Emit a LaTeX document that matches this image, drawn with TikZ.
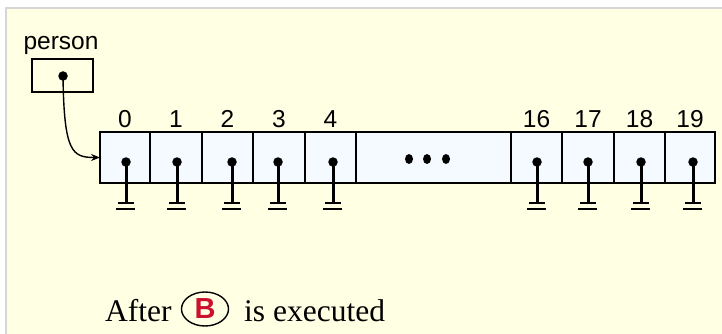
\documentclass[tikz,border=0pt]{standalone}
\usepackage{fontspec}
\setmainfont{Liberation Serif}
\newfontfamily\sansf{Liberation Sans}
\usetikzlibrary{arrows.meta,shapes.geometric}
\definecolor{bgyellow}{RGB}{255,255,227}
\definecolor{cellblue}{RGB}{244,250,255}
\definecolor{framegray}{RGB}{214,214,214}
\definecolor{bred}{RGB}{204,16,46}
\tikzset{
  cellbox/.style={draw=black, fill=cellblue, line width=1.6pt, minimum height=51pt, inner sep=0pt, outer sep=0pt},
  idx/.style={font=\sansf\fontsize{24.5}{28}\selectfont, anchor=base, inner sep=0pt},
  ptrdot/.style={circle, fill=black, inner sep=0pt, minimum size=9.5pt},
  stem/.style={line width=3pt},
  gbar/.style={line width=2.4pt},
  gline/.style={line width=1.4pt},
  serifbig/.style={font=\fontsize{31.5}{36}\selectfont, anchor=base west, inner sep=0pt},
}
\begin{document}
\begin{tikzpicture}[x=1pt,y=-1pt]
\useasboundingbox (0,0) rectangle (722,334);
\fill[white] (0,0) rectangle (722,334);
\fill[bgyellow] (6,8) rectangle (722,334);
\draw[framegray, line width=2pt] (6,334) -- (6,8) -- (722,8);

% cells
\foreach \n/\l/\r/\px in {0/100/150/126, 1/150/202/177, 2/202/253/232, 3/253/305/278, 4/305/356/333, 16/511/562/537, 17/562/614/588, 18/614/665/641, 19/665/715/693} {
  \node[cellbox, minimum width={\r-\l}] (c\n) at ({(\l+\r)/2},157.5) {};
  \node[idx] (lab\n) at ({(\l+\r)/2},128) {\n};
  \coordinate (g\n) at (\px,203);
  \draw[stem] (\px,162) -- (g\n);
  \node[ptrdot] (d\n) at (\px,162) {};
  \draw[gbar] ([xshift=-8pt]g\n) -- ([xshift=8pt]g\n);
  \draw[gline] ([xshift=-10pt,yshift=-6pt]g\n) -- ([xshift=9pt,yshift=-6pt]g\n);
}
\node[cellbox, minimum width=155pt] (cdots) at (433.5,157.5) {};
\foreach \x [count=\i] in {409,427,446} {
  \node[ellipse, fill=black, inner sep=0pt, minimum width=8pt, minimum height=10pt] (e\i) at (\x,159) {};
}

% person variable
\node[font=\sansf\fontsize{24.5}{28}\selectfont, anchor=base, inner sep=0pt] (plab) at (61,50) {person};
\node[draw=black, line width=1.4pt, minimum width=61pt, minimum height=33pt, inner sep=0pt] (pbox) at (62.5,75.5) {};
\node[ptrdot] (pdot) at (63,76) {};
\draw[line width=1.4pt, -{Stealth[length=9pt,width=7pt]}] (pdot.center) .. controls (64,152) and (72,157.5) .. (c0.west);

% caption
\node[serifbig] (after) at (105,321) {After};
\node[ellipse, draw=black, line width=1.4pt, minimum width=47pt, minimum height=34pt, inner sep=0pt,
      font=\sansf\bfseries\fontsize{29}{32}\selectfont, text=bred] (bnode) at (205,309) {B};
\node[serifbig] (exec) at (244,321) {is executed};
\end{tikzpicture}
\end{document}
